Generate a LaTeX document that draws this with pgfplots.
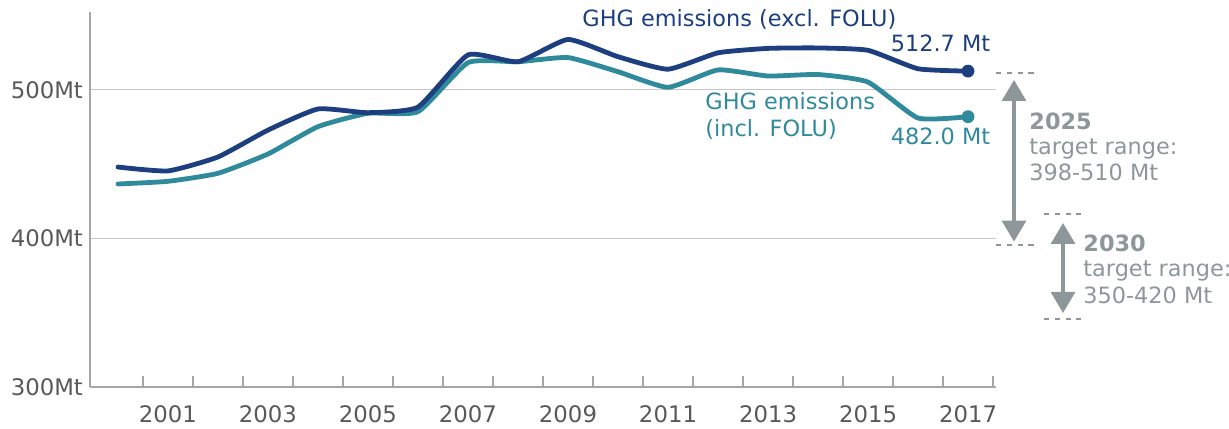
\documentclass[border=0pt]{standalone}
\usepackage{fontspec}
\setmainfont{DejaVu Sans}
\usepackage{pgfplots}
\usepackage{pgfplotstable}
\pgfplotsset{compat=1.18}
\usetikzlibrary{arrows.meta}

\definecolor{ghgblue}{HTML}{1D3F7F}
\definecolor{ghgteal}{HTML}{2F8A9C}
\definecolor{tgtgray}{HTML}{8D9799}
\definecolor{axgray}{HTML}{A6A6A6}
\definecolor{lblgray}{HTML}{595959}

% GHG emissions, Mt
\pgfplotstableread{
year excl incl
2000 448.1 436.7
2001 445.5 438.5
2002 454.9 443.9
2003 473.0 456.9
2004 487.2 475.3
2005 484.7 484.3
2006 488.5 485.4
2007 523.6 518.4
2008 519.0 519.0
2009 534.0 521.8
2010 522.4 512.3
2011 514.0 501.8
2012 525.0 513.5
2013 528.0 509.4
2014 528.3 510.4
2015 526.7 505.3
2016 514.3 481.1
2017 512.7 482.0
}\ghgdata

\begin{document}
\begin{tikzpicture}[x=1pt, y=1pt, font=\fontsize{11.2}{13.4}\selectfont]
\begin{axis}[
  at={(45pt,20.5pt)}, anchor=south west,
  scale only axis, width=453pt, height=187.5pt,
  xmin=1999.44, xmax=2017.56, ymin=300, ymax=552.5,
  axis x line*=bottom, axis y line*=left,
  axis line style={axgray, line width=0.75pt},
  tick align=inside,
  xtick={2001,2003,2005,2007,2009,2011,2013,2015,2017},
  xticklabels={2001,2003,2005,2007,2009,2011,2013,2015,2017},
  minor xtick={2000.5,2001.5,...,2017.5},
  major tick length=0pt, minor tick length=5.5pt,
  tick style={axgray, line width=0.6pt},
  ytick={300,400,500}, yticklabels={300Mt,400Mt,500Mt},
  ymajorgrids, grid style={black!22, line width=0.5pt},
  ticklabel style={font=\fontsize{11.4}{13.4}\selectfont, text=lblgray},
  xticklabel style={anchor=base, yshift=-17.5pt},
  /pgf/number format/assume math mode=true,
  clip=false,
]
\addplot[ghgteal, line width=2.4pt, smooth, tension=0.3, line cap=round]
  table[x=year, y=incl] {\ghgdata};
\addplot[ghgblue, line width=2.4pt, smooth, tension=0.3, line cap=round]
  table[x=year, y=excl] {\ghgdata};
\addplot[only marks, mark=*, mark size=3pt, ghgblue] coordinates {(2017,512.7)};
\addplot[only marks, mark=*, mark size=3pt, ghgteal] coordinates {(2017,482.0)};
\end{axis}

% series labels
\node[anchor=base west, inner sep=0, text=ghgblue] at (291,200.5) {GHG emissions (excl. FOLU)};
\node[anchor=base west, inner sep=0, text=ghgteal] at (352.5,159) {GHG emissions};
\node[anchor=base west, inner sep=0, text=ghgteal] at (352.5,145.7) {(incl. FOLU)};
\node[anchor=base east, inner sep=0, text=ghgblue] at (495.3,188) {512.7 Mt};
\node[anchor=base east, inner sep=0, text=ghgteal] at (495.3,141.5) {482.0 Mt};

% target ranges
\begin{scope}[tgtgray]
\draw[line width=1.1pt, dash pattern=on 2.7pt off 2.7pt] (498,177.5) -- (517,177.5);
\draw[line width=1.1pt, dash pattern=on 2.7pt off 2.7pt] (498,91.5) -- (517,91.5);
\draw[line width=1.6pt, {Triangle[width=12pt,length=10.5pt]}-{Triangle[width=12pt,length=10.5pt]}]
  (507,174) -- (507,93.2);
\draw[line width=1.1pt, dash pattern=on 2.7pt off 2.7pt] (522,107.1) -- (540.5,107.1);
\draw[line width=1.1pt, dash pattern=on 2.7pt off 2.7pt] (522,54.5) -- (540.5,54.5);
\draw[line width=1.6pt, {Triangle[width=12pt,length=10.5pt]}-{Triangle[width=12pt,length=10.5pt]}]
  (531.5,102.5) -- (531.5,57.5);
\node[anchor=base west, inner sep=0, text=tgtgray, font=\fontsize{11.2}{13.4}\selectfont\bfseries] at (514.5,149.4) {2025};
\node[anchor=base west, inner sep=0, text=tgtgray] at (514.5,136.5) {target range:};
\node[anchor=base west, inner sep=0, text=tgtgray] at (514.5,123.7) {398-510 Mt};
\node[anchor=base west, inner sep=0, text=tgtgray, font=\fontsize{11.2}{13.4}\selectfont\bfseries] at (541.5,88.2) {2030};
\node[anchor=base west, inner sep=0, text=tgtgray] at (541.5,75.6) {target range:};
\node[anchor=base west, inner sep=0, text=tgtgray] at (541.5,62.5) {350-420 Mt};
\end{scope}

\pgfresetboundingbox
\useasboundingbox (0,0) rectangle (614.5,214);
\end{tikzpicture}
\end{document}
